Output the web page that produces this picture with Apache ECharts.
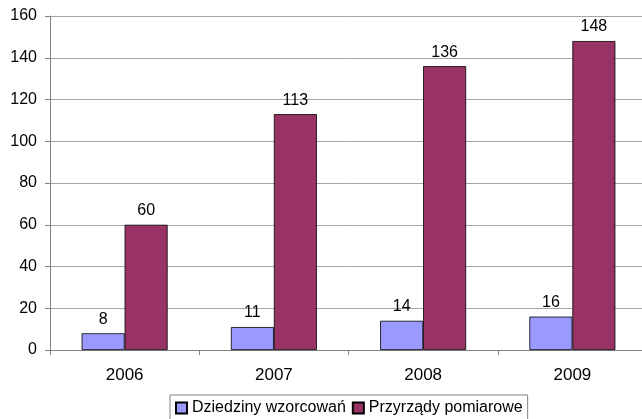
<!DOCTYPE html>
<html><head><meta charset="utf-8">
<script src="https://cdn.jsdelivr.net/npm/echarts@6/dist/echarts.min.js"></script>
<style>html,body{margin:0;padding:0;background:#fff;overflow:hidden;width:642px;height:419px}#c{width:647px;height:419px}</style>
</head><body><div id="c"></div>
<script>
const categories = ['2006', '2007', '2008', '2009'];
const dziedziny = [8, 11, 14, 16];
const przyrzady = [60, 113, 136, 148];
const yTicks = [0, 20, 40, 60, 80, 100, 120, 140, 160];
const seriesNames = ['Dziedziny wzorcowań', 'Przyrządy pomiarowe'];

const chart = echarts.init(document.getElementById('c'));
const font = 'Liberation Sans, Arial, sans-serif';
const label = {show: true, position: 'top', distance: 6, color: '#000', fontSize: 16, fontFamily: font};
chart.setOption({
  animation: false,
  grid: {left: 50, right: 0, top: 16, bottom: 69, containLabel: false},
  legend: {
    top: 395, left: 170,
    itemWidth: 11, itemHeight: 11, itemGap: 6,
    padding: [5, 5, 8, 5],
    borderColor: '#808080', borderWidth: 1,
    textStyle: {fontSize: 16, fontFamily: font, color: '#000'},
    data: seriesNames.map(n => ({name: n, icon: 'rect'}))
  },
  xAxis: {
    type: 'category', data: categories,
    axisLine: {lineStyle: {color: '#808080'}},
    axisTick: {show: true, length: 5, lineStyle: {color: '#808080'}},
    axisLabel: {fontSize: 17, fontFamily: font, color: '#000', margin: 17}
  },
  yAxis: {
    type: 'value', min: 0, max: 160, interval: 20,
    axisLine: {show: true, lineStyle: {color: '#808080'}},
    axisTick: {show: true, length: 5, lineStyle: {color: '#808080'}},
    splitLine: {lineStyle: {color: '#a6a6a6', width: 1}},
    axisLabel: {fontSize: 16, fontFamily: font, color: '#000', margin: 13}
  },
  series: [
    {name: seriesNames[0], type: 'bar', data: dziedziny, barWidth: 43, barGap: '0%',
     itemStyle: {color: '#9999ff', borderColor: '#000', borderWidth: 0.8}, label},
    {name: seriesNames[1], type: 'bar', data: przyrzady, barWidth: 43, barGap: '0%',
     itemStyle: {color: '#993366', borderColor: '#000', borderWidth: 0.8}, label}
  ]
});
</script></body></html>
